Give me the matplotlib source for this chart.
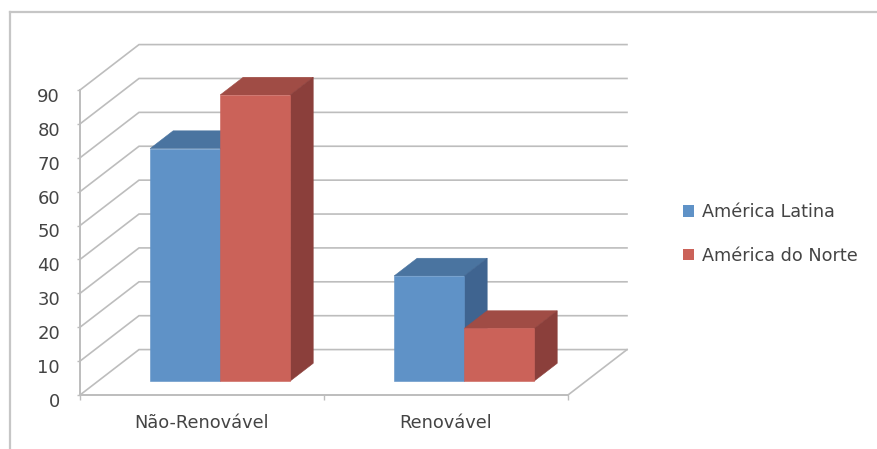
import matplotlib
matplotlib.use("Agg")
import matplotlib.pyplot as plt
from matplotlib.lines import Line2D
from matplotlib.patches import Patch, Polygon
from matplotlib.transforms import ScaledTranslation

categories = ["Não-Renovável", "Renovável"]
series_names = ["América Latina", "América do Norte"]
america_latina = [68.6, 31]
america_norte = [84.4, 15.5]
y_ticks = [0, 10, 20, 30, 40, 50, 60, 70, 80, 90]

# oblique projection: how far the back wall sits from the front plane, in data units
DEPTH_X = 0.2418
DEPTH_Y = 13.4
BAR_WIDTH = 0.287
BAR_MARGIN = 0.213
BAR_FRONT = 0.308
BAR_BACK = 0.698

GRID = "#bdbdbd"
TEXT = "#444444"
BLUE = ("#5f92c7", "#4a74a0", "#3f6490")
RED = ("#cb6259", "#a04c45", "#8b3f3b")


def project(x, y, depth):
    return x + depth * DEPTH_X, y + depth * DEPTH_Y


def draw_bar(ax, left, value, colors):
    front, top, side = colors
    right = left + BAR_WIDTH
    faces = [
        ([(left, value, BAR_FRONT), (right, value, BAR_FRONT),
          (right, value, BAR_BACK), (left, value, BAR_BACK)], top),
        ([(right, 0, BAR_FRONT), (right, value, BAR_FRONT),
          (right, value, BAR_BACK), (right, 0, BAR_BACK)], side),
        ([(left, 0, BAR_FRONT), (right, 0, BAR_FRONT),
          (right, value, BAR_FRONT), (left, value, BAR_FRONT)], front),
    ]
    for corners, color in faces:
        points = [project(*c) for c in corners]
        ax.add_patch(Polygon(points, closed=True, facecolor=color, edgecolor=color,
                             linewidth=0.4, zorder=3, clip_on=False))


W, H = 878, 449
fig = plt.figure(figsize=(W / 100, H / 100), dpi=100)
ax = fig.add_axes([80 / W, 1 - 395 / H, 488 / W, 305 / H])
ax.set_xlim(0, 2)
ax.set_ylim(0, 90)

# outer chart frame, open on the right and at the bottom
fig.add_artist(Line2D([10 / W, 10 / W], [0, 1 - 12 / H], color="#c6c6c6", lw=1.6))
fig.add_artist(Line2D([10 / W, 1], [1 - 12 / H, 1 - 12 / H], color="#c6c6c6", lw=1.6))

# back wall gridlines and the slanted lines on the side wall
for tick in y_ticks:
    x0, y0 = project(0, tick, 0)
    x1, y1 = project(0, tick, 1)
    x2, y2 = project(2, tick, 1)
    ax.plot([x0, x1, x2], [y0, y1, y2], color=GRID, lw=1.2, zorder=1, clip_on=False,
            solid_joinstyle="miter")

# right edge of the floor
x0, y0 = project(2, 0, 0)
x1, y1 = project(2, 0, 1)
ax.plot([x0, x1], [y0, y1], color=GRID, lw=1.2, zorder=1, clip_on=False)

for i in range(len(categories)):
    draw_bar(ax, i + BAR_MARGIN, america_latina[i], BLUE)
    draw_bar(ax, i + BAR_MARGIN + BAR_WIDTH, america_norte[i], RED)

for name in ["top", "right"]:
    ax.spines[name].set_visible(False)
for name in ["left", "bottom"]:
    ax.spines[name].set_color(GRID)
    ax.spines[name].set_linewidth(1.4)
ax.patch.set_visible(False)

ax.set_yticks(y_ticks)
ax.tick_params(axis="y", length=2.4, width=1, color=GRID, labelcolor=TEXT, labelsize=13, pad=12)
ax.set_xticks([0, 1, 2])
ax.set_xticklabels([])
ax.set_xticks([i + 0.5 for i in range(len(categories))], categories, minor=True)
ax.tick_params(axis="x", which="major", length=3.5, width=1, color=GRID)
ax.tick_params(axis="x", which="minor", length=0, labelcolor=TEXT, labelsize=12.8, pad=14)

# the value labels sit slightly below their ticks
shift_down = ScaledTranslation(0, -3.5 / 72, fig.dpi_scale_trans)
for label in ax.get_yticklabels():
    label.set_transform(label.get_transform() + shift_down)

handles = [Patch(facecolor=BLUE[0], label=series_names[0]),
           Patch(facecolor=RED[0], label=series_names[1])]
fig.legend(handles=handles, loc="center left", bbox_to_anchor=(683 / W, 1 - 234 / H),
           frameon=False, fontsize=12.7, labelcolor=TEXT, handlelength=0.65, handleheight=0.65,
           handletextpad=0.4, labelspacing=1.45, borderpad=0, borderaxespad=0)

fig.savefig("out.png", dpi=100)
